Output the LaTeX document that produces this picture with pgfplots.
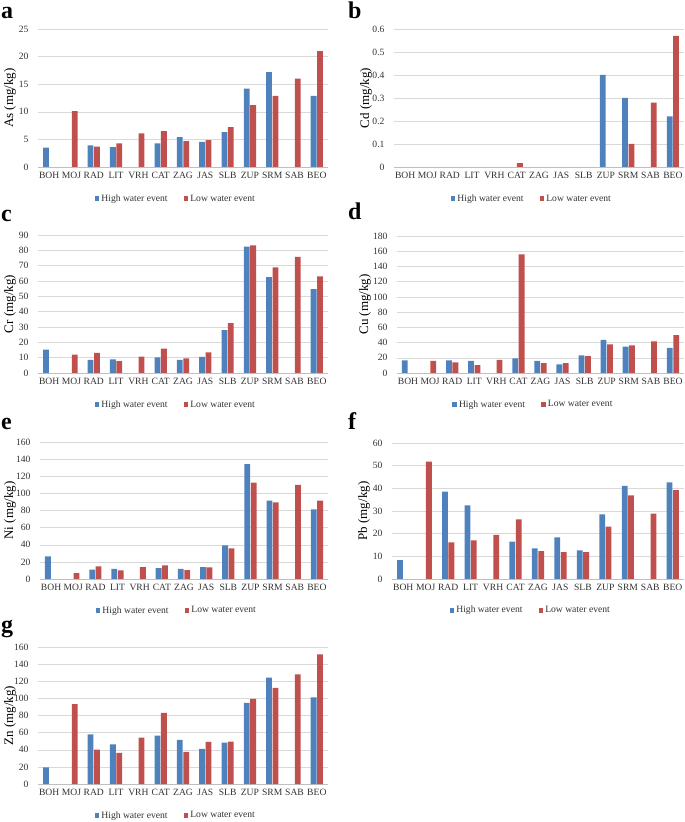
\documentclass[border=0pt]{standalone}
\usepackage{fontspec}
\setmainfont{Liberation Serif}
\usepackage{pgfplots}
\usepackage{pgfplotstable}
\pgfplotsset{compat=1.18}

\definecolor{hblue}{HTML}{4F81BD}
\definecolor{lred}{HTML}{C0504D}

% site, then high / low water values per element (nan = not shown)
\pgfplotstableread{
idx site Ash Asl Cdh Cdl Crh Crl Cuh Cul Nih Nil Pbh Pbl Znh Znl
0 BOH 3.5 nan nan nan 15.3 nan 16.6 nan 26.5 nan 8.3 nan 19.5 nan
1 MOJ nan 10.1 nan nan nan 12.0 nan 15.8 nan 7.0 nan 51.8 nan 93.3
2 RAD 3.9 3.7 nan nan 8.5 13.1 16.6 14.0 10.9 14.8 38.5 16.2 58.1 40.2
3 LIT 3.6 4.3 nan nan 8.9 7.8 15.8 10.5 11.7 10.1 32.5 17.0 46.4 36.3
4 VRH nan 6.1 nan nan nan 10.7 nan 17.1 nan 14.0 nan 19.5 nan 54.2
5 CAT 4.3 6.5 nan 0.017 10.2 15.9 19.3 155.9 12.8 16.0 16.5 26.3 56.6 83.1
6 ZAG 5.4 4.7 nan nan 8.5 9.6 15.8 13.1 11.7 10.5 13.5 12.3 51.5 37.5
7 JAS 4.55 4.85 nan nan 10.5 13.5 11.4 13.1 14.0 13.6 18.4 11.9 41.0 49.2
8 SLB 6.3 7.2 nan nan 27.9 32.5 23.2 22.3 39.3 35.8 12.6 11.9 48.4 49.6
9 ZUP 14.2 11.2 0.40 nan 82.4 83.2 43.4 37.7 134.3 112.5 28.5 23.1 94.8 99.5
10 SRM 17.2 12.9 0.30 0.10 62.5 68.9 34.6 36.4 91.5 89.5 41.1 36.9 124.1 112.4
11 SAB nan 16.0 nan 0.28 nan 75.8 nan 41.6 nan 109.8 nan 28.8 nan 128.0
12 BEO 12.9 21.0 0.22 0.57 54.7 63.0 32.9 49.9 81.4 91.5 42.6 39.2 101.1 151.4
}\data

\pgfplotsset{
  panel/.style={
    scale only axis, width=290pt, height=138pt,
    ybar=0.6pt, bar width=5.8pt,
    xmin=-0.5, xmax=12.5, ymin=0,
    xtick={0,...,12},
    xticklabels={BOH,MOJ,RAD,LIT,VRH,CAT,ZAG,JAS,SLB,ZUP,SRM,SAB,BEO},
    axis x line*=bottom, axis y line*=left,
    x axis line style={-,draw=black!25},
    y axis line style={draw=none},
    major tick length=0pt,
    ymajorgrids, grid style={black!15},
    scaled y ticks=false,
    /pgf/number format/assume math mode=true,
    tick label style={font=\fontsize{9.6}{11}\selectfont, text=black!80},
    xticklabel style={yshift=-2pt},
    yticklabel style={xshift=-6pt},
    ylabel style={font=\fontsize{13}{15}\selectfont, at={(axis description cs:0,0.5)}, anchor=center, yshift=28pt},
    legend style={draw=none, at={(0.475,-0.17)}, anchor=north, legend columns=2,
      font=\fontsize{9.6}{11}\selectfont, text=black!80,
      /tikz/every even column/.append style={column sep=14pt}},
    legend image code/.code={\fill[##1] (0pt,-2.4pt) rectangle (4.8pt,2.4pt);},
  },
  hw/.style={fill=hblue, draw=none},
  lw/.style={fill=lred, draw=none},
}

\begin{document}
\begin{tikzpicture}
\useasboundingbox (0,0) rectangle (685pt,822pt);

% a: As
\begin{axis}[panel, at={(38pt,655pt)}, anchor=south west,
  ymax=25, ytick={0,5,...,25}, ylabel={As (mg/kg)}]
\addplot[hw] table[x=idx, y=Ash] {\data};
\addplot[lw] table[x=idx, y=Asl] {\data};
\legend{High water event, Low water event}
\end{axis}

% b: Cd
\begin{axis}[panel, at={(394pt,655pt)}, anchor=south west,
  ymax=0.6, ytick={0,0.1,...,0.6}, ylabel={Cd (mg/kg)},
  yticklabel style={/pgf/number format/fixed, /pgf/number format/precision=1}]
\addplot[hw] table[x=idx, y=Cdh] {\data};
\addplot[lw] table[x=idx, y=Cdl] {\data};
\legend{High water event, Low water event}
\end{axis}

% c: Cr
\begin{axis}[panel, at={(38pt,449pt)}, anchor=south west,
  ymax=90, ytick={0,10,...,90}, ylabel={Cr (mg/kg)}]
\addplot[hw] table[x=idx, y=Crh] {\data};
\addplot[lw] table[x=idx, y=Crl] {\data};
\legend{High water event, Low water event}
\end{axis}

% d: Cu
\begin{axis}[panel, at={(397pt,449pt)}, anchor=south west, width=287pt, height=137pt,
  ymax=180, ytick={0,20,...,180}, ylabel={Cu (mg/kg)}, ylabel style={yshift=4pt}]
\addplot[hw] table[x=idx, y=Cuh] {\data};
\addplot[lw] table[x=idx, y=Cul] {\data};
\legend{High water event, Low water event}
\end{axis}

% e: Ni
\begin{axis}[panel, at={(40pt,243pt)}, anchor=south west, width=288pt, height=137pt,
  ymax=160, ytick={0,20,...,160}, ylabel={Ni (mg/kg)}, ylabel style={yshift=2pt}]
\addplot[hw] table[x=idx, y=Nih] {\data};
\addplot[lw] table[x=idx, y=Nil] {\data};
\legend{High water event, Low water event}
\end{axis}

% f: Pb
\begin{axis}[panel, at={(392pt,243pt)}, anchor=south west, width=292pt, height=136pt,
  ymax=60, ytick={0,10,...,60}, ylabel={Pb (mg/kg)}]
\addplot[hw] table[x=idx, y=Pbh] {\data};
\addplot[lw] table[x=idx, y=Pbl] {\data};
\legend{High water event, Low water event}
\end{axis}

% g: Zn
\begin{axis}[panel, at={(38pt,38pt)}, anchor=south west, height=137pt,
  ymax=160, ytick={0,20,...,160}, ylabel={Zn (mg/kg)}]
\addplot[hw] table[x=idx, y=Znh] {\data};
\addplot[lw] table[x=idx, y=Znl] {\data};
\legend{High water event, Low water event}
\end{axis}

% panel letters
\begin{scope}[every node/.style={anchor=base west, inner sep=0pt, font=\fontsize{24}{24}\bfseries\selectfont}]
\node at (1pt,803pt) {a};
\node at (348pt,803pt) {b};
\node at (1pt,600pt) {c};
\node at (348pt,602pt) {d};
\node at (1pt,392pt) {e};
\node at (348pt,392pt) {f};
\node at (1pt,189pt) {g};
\end{scope}
\end{tikzpicture}
\end{document}
